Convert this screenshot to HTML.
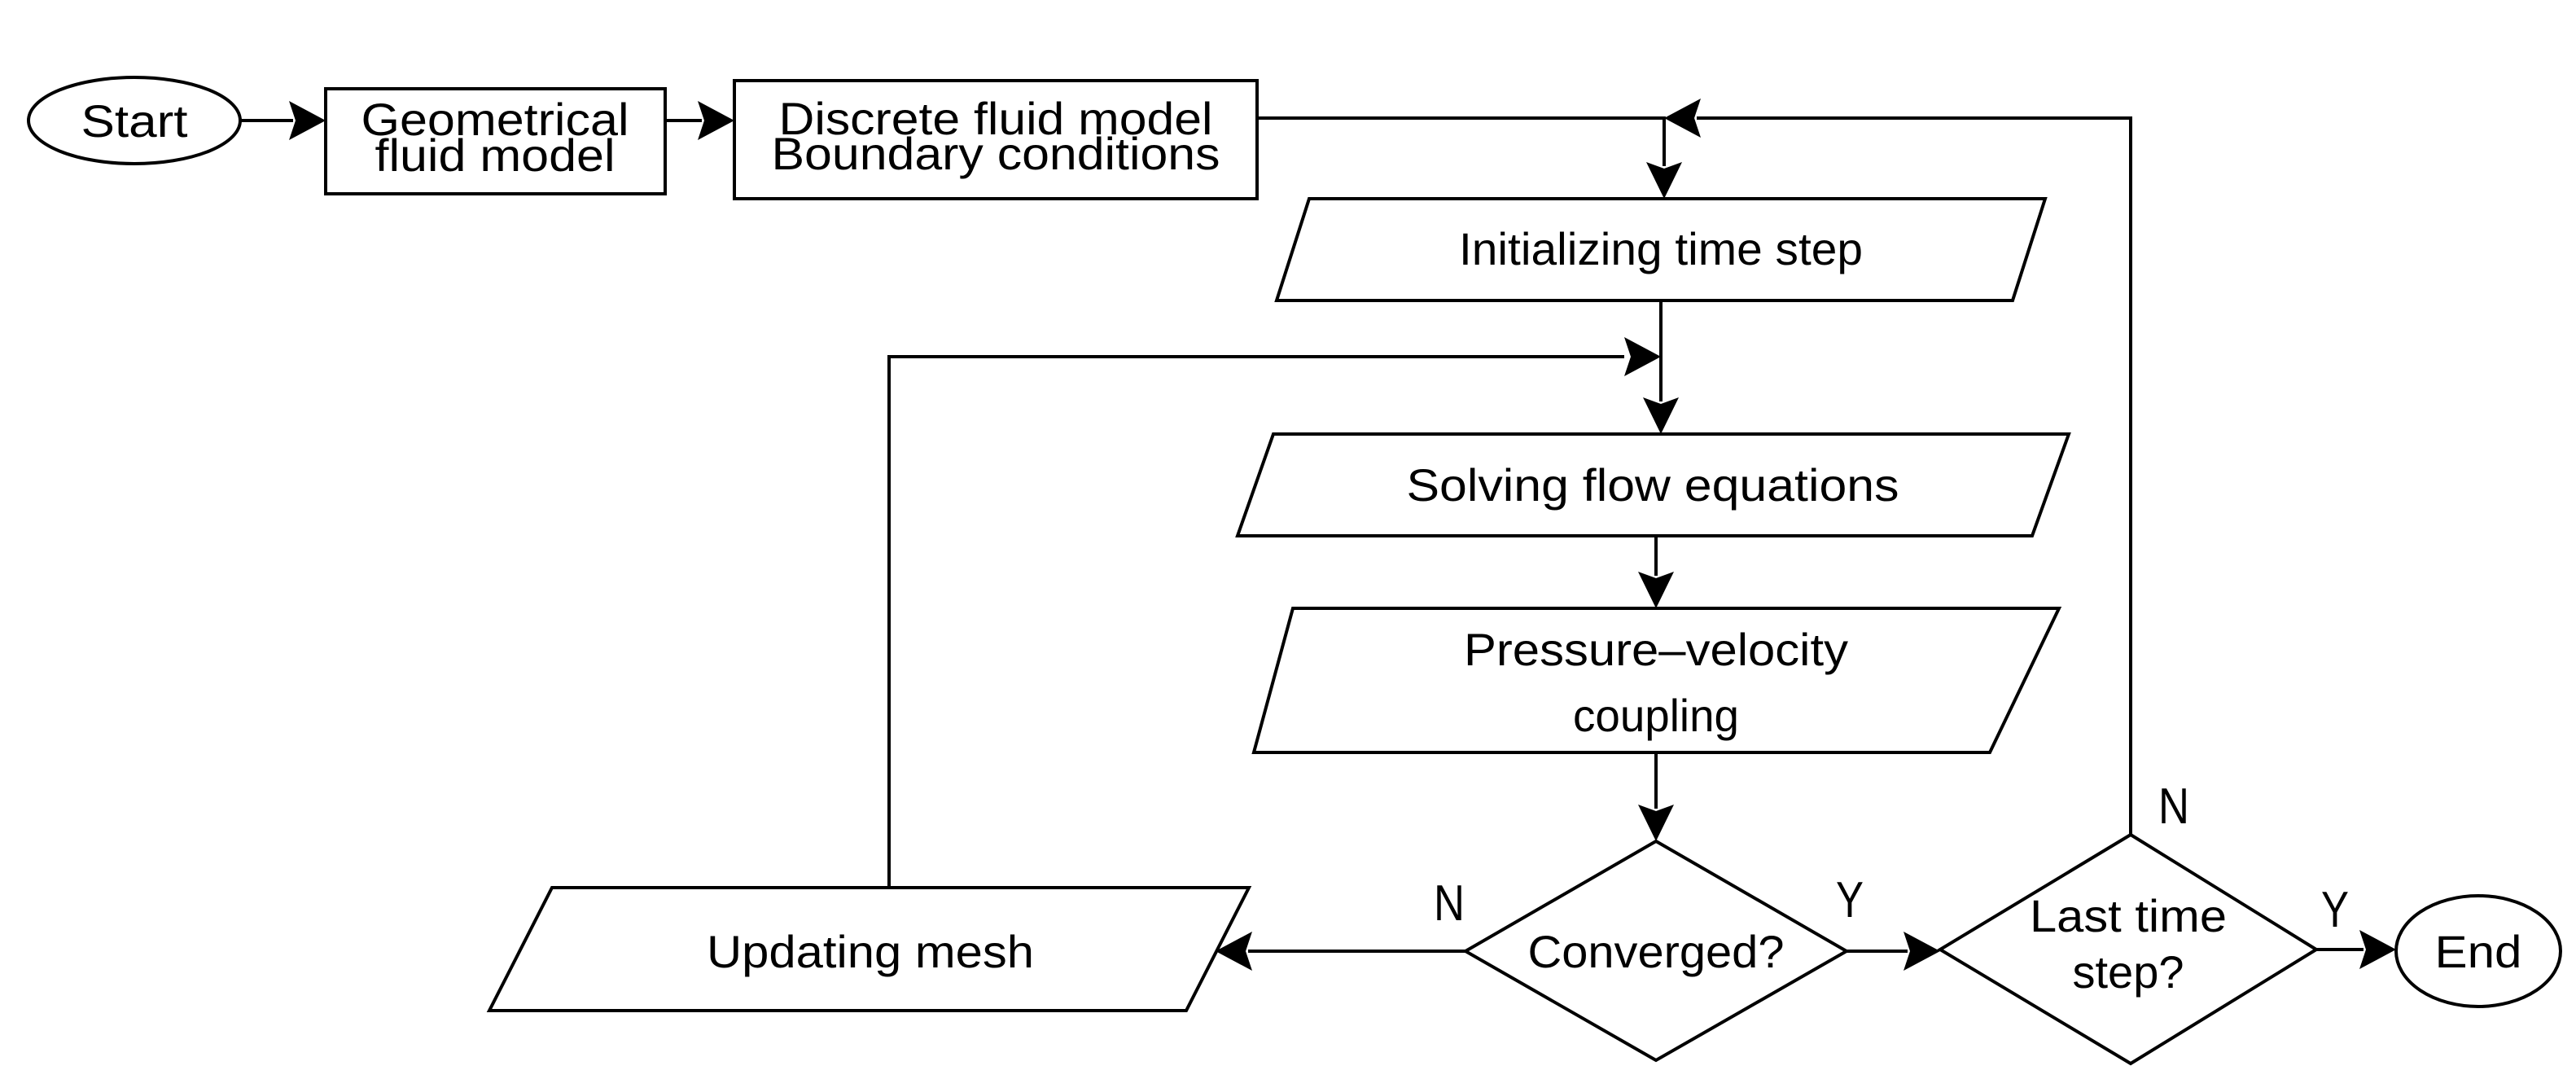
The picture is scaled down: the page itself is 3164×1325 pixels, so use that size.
<!DOCTYPE html>
<html><head><meta charset="utf-8"><style>
html,body{margin:0;padding:0;background:#fff;}
svg{display:block;}
text{font-family:"Liberation Sans",sans-serif;font-size:56px;fill:#000;text-anchor:middle;}
text.l{font-size:62px;}
</style></head><body>
<svg width="3164" height="1325" viewBox="0 0 3164 1325" xmlns="http://www.w3.org/2000/svg">
<g fill="none" stroke="#000" stroke-width="4">
<ellipse cx="165" cy="148" rx="130" ry="53"/>
<rect x="400" y="109" width="417" height="129"/>
<rect x="902" y="99" width="642" height="145"/>
<polygon points="1608,244 2512,244 2472,369 1568,369"/>
<polygon points="1564,533 2541,533 2496,658 1520,658"/>
<polygon points="1588,747 2529,747 2444,924 1540,924"/>
<polygon points="2034,1033 2268,1168 2034,1302 1800,1168"/>
<polygon points="2617,1025 2845,1166 2617,1306 2383,1166"/>
<ellipse cx="3044" cy="1168" rx="101" ry="68"/>
<polygon points="678,1090 1534,1090 1457,1241 601,1241"/>
<line x1="295" y1="148" x2="360" y2="148"/>
<line x1="817" y1="148" x2="862" y2="148"/>
<polyline points="1544,145 2044,145 2044,204"/>
<polyline points="2617,1025 2617,145 2084,145"/>
<line x1="2040" y1="369" x2="2040" y2="493"/>
<polyline points="1092,1090 1092,438 1995,438"/>
<line x1="2034" y1="658" x2="2034" y2="707"/>
<line x1="2034" y1="924" x2="2034" y2="993"/>
<line x1="1800" y1="1168" x2="1533" y2="1168"/>
<line x1="2268" y1="1168" x2="2343" y2="1168"/>
<line x1="2845" y1="1166" x2="2903" y2="1166"/>
</g>
<g fill="#000">
<polygon points="400,148 355,124 363,148 355,172"/>
<polygon points="902,148 857,124 865,148 857,172"/>
<polygon points="2044,244 2022,199 2044,207 2066,199"/>
<polygon points="2044,145 2089,121 2081,145 2089,169"/>
<polygon points="2040,533 2018,488 2040,496 2062,488"/>
<polygon points="2040,438 1995,414 2003,438 1995,462"/>
<polygon points="2034,747 2012,702 2034,710 2056,702"/>
<polygon points="2034,1033 2012,988 2034,996 2056,988"/>
<polygon points="1493,1168 1538,1144 1530,1168 1538,1192"/>
<polygon points="2383,1168 2338,1144 2346,1168 2338,1192"/>
<polygon points="2943,1166 2898,1142 2906,1166 2898,1190"/>
</g>
<text x="165" y="168" textLength="131" lengthAdjust="spacingAndGlyphs">Start</text>
<text x="608" y="166" textLength="329" lengthAdjust="spacingAndGlyphs">Geometrical</text>
<text x="608" y="210" textLength="295" lengthAdjust="spacingAndGlyphs">fluid model</text>
<text x="1223" y="165" textLength="533" lengthAdjust="spacingAndGlyphs">Discrete fluid model</text>
<text x="1223" y="208" textLength="551" lengthAdjust="spacingAndGlyphs">Boundary conditions</text>
<text x="2040" y="325" textLength="496" lengthAdjust="spacingAndGlyphs">Initializing time step</text>
<text x="2030" y="615" textLength="605" lengthAdjust="spacingAndGlyphs">Solving flow equations</text>
<text x="2034" y="817" textLength="472" lengthAdjust="spacingAndGlyphs">Pressure–velocity</text>
<text x="2034" y="898" textLength="204" lengthAdjust="spacingAndGlyphs">coupling</text>
<text x="2034" y="1188" textLength="315" lengthAdjust="spacingAndGlyphs">Converged?</text>
<text x="2614" y="1144" textLength="242" lengthAdjust="spacingAndGlyphs">Last time</text>
<text x="2614" y="1213" textLength="137" lengthAdjust="spacingAndGlyphs">step?</text>
<text x="3044" y="1188" textLength="107" lengthAdjust="spacingAndGlyphs">End</text>
<text x="1069" y="1188" textLength="402" lengthAdjust="spacingAndGlyphs">Updating mesh</text>
<text class="l" x="1780" y="1130" textLength="38" lengthAdjust="spacingAndGlyphs">N</text>
<text class="l" x="2272" y="1126" textLength="34" lengthAdjust="spacingAndGlyphs">Y</text>
<text class="l" x="2670" y="1011" textLength="38" lengthAdjust="spacingAndGlyphs">N</text>
<text class="l" x="2868" y="1138" textLength="34" lengthAdjust="spacingAndGlyphs">Y</text>
</svg>
</body></html>
